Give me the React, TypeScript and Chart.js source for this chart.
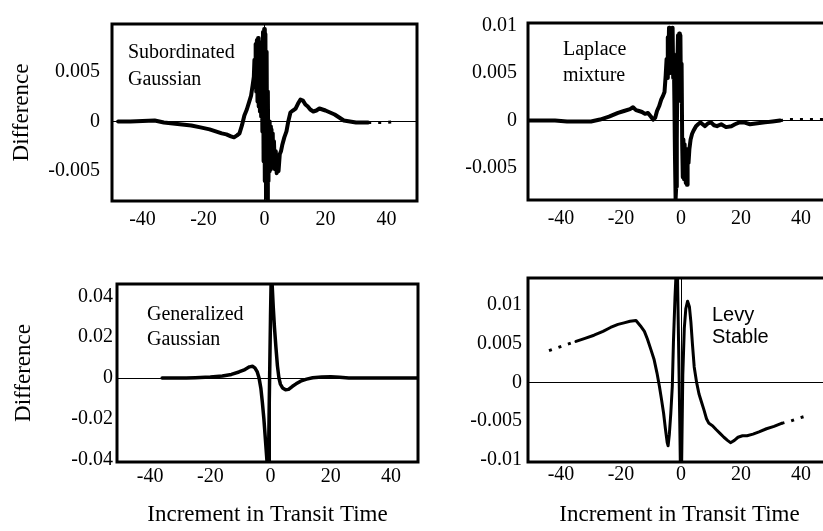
import React, { useEffect, useRef } from "react";
import { Chart, registerables } from "chart.js";

Chart.register(...registerables);

const SERIF = "'Liberation Serif', 'Times New Roman', serif";
const SANS = "'Liberation Sans', Arial, sans-serif";

// shared x ticks
const xTicks = [-40, -20, 0, 20, 40];
const xTickLabels = ["-40", "-20", "0", "20", "40"];

// Panel 1: Subordinated Gaussian
const sgX = [-48, -44, -40, -36, -33, -30, -27, -24, -21, -18, -16, -14, -12.5, -11, -10, -9, -8.2, -7.4, -6.6, -5.8, -5.0, -4.4, -3.9, -3.5, -3.3, -3.1, -2.9, -2.7, -2.5, -2.3, -2.1, -1.9, -1.7, -1.5, -1.3, -1.1, -0.9, -0.7, -0.5, -0.3, -0.1, 0.1, 0.3, 0.5, 0.7, 0.9, 1.1, 1.3, 1.5, 1.7, 1.9, 2.1, 2.3, 2.5, 2.7, 2.9, 3.1, 3.4, 3.7, 4.0, 4.3, 4.6, 5.0, 5.4, 5.8, 6.5, 7.2, 7.8, 8.5, 9.3, 10.2, 11.0, 11.8, 12.6, 13.4, 14.2, 15.0, 16.0, 17.0, 18.0, 19.0, 20.0, 21.5, 23.0, 24.5, 26.0, 28.0, 30.0, 32.0, 34.0];
const sgY = [0, 0, 0.00005, 0.0001, -0.0001, -0.0002, -0.0003, -0.0004, -0.0006, -0.0008, -0.001, -0.0012, -0.0013, -0.0015, -0.0016, -0.0014, -0.0012, -0.0004, 0.0006, 0.0012, 0.002, 0.0026, 0.0036, 0.0045, 0.0062, 0.004, 0.0078, 0.003, 0.0082, 0.002, 0.0084, 0.0015, 0.008, 0.001, 0.0078, 0.0005, 0.0074, -0.001, 0.009, -0.004, 0.0093, -0.006, 0.0088, -0.0077, 0.007, -0.0079, 0.003, -0.006, 0, -0.005, -0.0005, -0.0048, -0.0008, -0.0045, -0.0012, -0.0046, -0.002, -0.0048, -0.003, -0.0052, -0.004, -0.005, -0.0033, -0.003, -0.0024, -0.0016, -0.001, 0, 0.0009, 0.0011, 0.0013, 0.0018, 0.0022, 0.0021, 0.0017, 0.0015, 0.0012, 0.001, 0.0011, 0.0013, 0.0012, 0.0011, 0.0009, 0.0007, 0.0004, 0.0001, 0, -0.0001, -0.0001, -0.0001];
const sgTailX = [34, 37, 40, 43];
const sgTailY = [-0.0001, -0.0001, -0.0001, 0];
const sgYTicks = [0.005, 0, -0.005];
const sgYLabels = ["0.005", "0", "-0.005"];

// Panel 2: Laplace mixture
const lmX = [-51, -46, -42, -38, -34, -30, -27, -24, -21, -19, -17, -16, -15, -14, -13, -12, -11, -10, -9.3, -8.6, -8, -7.3, -6.6, -6.0, -5.5, -5.1, -4.8, -4.6, -4.4, -4.2, -4.0, -3.8, -3.6, -3.4, -3.2, -3.0, -2.8, -2.6, -2.4, -2.2, -2.0, -1.8, -1.6, -1.4, -1.2, -1.0, -0.8, -0.6, -0.4, -0.2, 0.0, 0.2, 0.4, 0.6, 0.8, 1.0, 1.2, 1.4, 1.6, 1.8, 2.0, 2.2, 2.5, 2.8, 3.2, 3.7, 4.3, 5.0, 5.7, 6.5, 7.2, 8.0, 9.0, 10.0, 11.0, 12.0, 13.4, 15.0, 16.8, 18.0, 19.5, 21.0, 23.0, 25.5, 28.0, 30.5, 33.0];
const lmY = [0, 0, 0, -0.0001, -0.0001, -0.0001, 0.0001, 0.0004, 0.0008, 0.001, 0.0012, 0.0014, 0.0011, 0.001, 0.0009, 0.0007, 0.0008, 0.0004, 0.0001, 0.0003, 0.001, 0.0015, 0.0022, 0.0026, 0.003, 0.0048, 0.0065, 0.0045, 0.0088, 0.006, 0.0098, 0.005, 0.0096, 0.0055, 0.0097, 0.006, 0.0098, 0.0045, 0.007, 0.002, -0.004, -0.0083, -0.007, -0.002, 0.006, 0.009, 0.003, 0.0092, 0.0025, 0.009, 0.002, 0.006, -0.0025, -0.006, -0.002, -0.0062, -0.0025, -0.005, -0.0066, -0.003, -0.0068, -0.0035, -0.0045, -0.003, -0.002, -0.0014, -0.001, -0.0006, -0.0004, -0.0002, -0.0004, -0.0006, -0.0003, -0.0002, -0.0005, -0.0006, -0.0004, -0.0007, -0.0006, -0.0004, -0.0002, -0.0002, -0.0004, -0.0003, -0.0002, -0.0001, 0];
const lmTailX = [33, 36, 40, 44, 48];
const lmTailY = [0, 0.0001, 0.0001, 0.0001, 0.0001];
const lmYTicks = [0.01, 0.005, 0, -0.005];
const lmYLabels = ["0.01", "0.005", "0", "-0.005"];

// Panel 3: Generalized Gaussian
const ggX = [-36, -32, -28, -25, -20, -16, -13, -10.5, -8.5, -7, -6, -5.2, -4.4, -3.8, -3.2, -2.7, -2.2, -1.7, -1.3, -1.0, -0.7, -0.4, 0.0, 0.2, 0.5, 0.9, 1.3, 1.8, 2.3, 2.8, 3.3, 4.0, 5.0, 6.0, 7.3, 8.5, 10.0, 12.0, 14.0, 17.0, 20.0, 23.0, 26.0, 30, 35, 40, 45, 49];
const ggY = [0, 0, 0.0001, 0.0002, 0.0005, 0.001, 0.0018, 0.003, 0.0042, 0.0055, 0.0058, 0.005, 0.003, 0, -0.005, -0.012, -0.02, -0.03, -0.038, -0.044, -0.045, -0.01, 0.03, 0.047, 0.047, 0.035, 0.025, 0.015, 0.006, 0, -0.003, -0.0048, -0.0057, -0.0055, -0.004, -0.0028, -0.0015, -0.0005, 0.0002, 0.0006, 0.0007, 0.0004, 0.0001, 0, 0, 0, 0, 0];
const ggYTicks = [0.04, 0.02, 0, -0.02, -0.04];
const ggYLabels = ["0.04", "0.02", "0", "-0.02", "-0.04"];

// Panel 4: Levy Stable
const lsHeadX = [-44, -41, -38, -35];
const lsHeadY = [0.0041, 0.0045, 0.0049, 0.0053];
const lsX = [-35, -32, -29, -26, -23.5, -21, -19, -17, -15, -13.5, -12.2, -11.2, -10, -9, -8, -7.2, -6.5, -5.8, -5.2, -4.6, -4.3, -3.9, -3.4, -2.9, -2.5, -2.0, -1.6, -1.2, -0.6, -0.2, 0.2, 0.6, 1.1, 1.6, 2.2, 2.8, 3.3, 3.8, 4.4, 5.2, 6.0, 6.8, 7.6, 8.5, 9.3, 10.5, 11.7, 13.0, 14.3, 15.5, 16.5, 17.8, 19.0, 20.5, 22.0, 24.0, 26.0, 28.5, 31.0, 33.5];
const lsY = [0.0053, 0.0057, 0.0061, 0.0066, 0.0071, 0.0075, 0.0077, 0.0079, 0.008, 0.0073, 0.0066, 0.0056, 0.0042, 0.003, 0.0012, -0.0005, -0.0022, -0.004, -0.006, -0.0078, -0.0082, -0.0068, -0.004, -0.0005, 0.0055, 0.011, 0.0145, 0.0145, 0, -0.011, -0.011, 0.001, 0.007, 0.0095, 0.0105, 0.0098, 0.0078, 0.005, 0.002, 0, -0.0015, -0.0025, -0.0035, -0.0047, -0.0053, -0.0056, -0.0061, -0.0066, -0.0071, -0.0075, -0.0078, -0.0075, -0.0071, -0.0069, -0.0069, -0.0067, -0.0064, -0.006, -0.0057, -0.0053];
const lsTailX = [33.5, 36.5, 39.5, 43];
const lsTailY = [-0.0053, -0.005, -0.0046, -0.0042];
const lsYTicks = [0.01, 0.005, 0, -0.005, -0.01];
const lsYLabels = ["0.01", "0.005", "0", "-0.005", "-0.01"];

type Series = { x: number[]; y: number[]; dashed?: boolean };

type PanelProps = {
  left: number; top: number; width: number; height: number;
  pad: { top: number; right: number; left: number; bottom: number };
  yWidth: number; xHeight: number;
  xMin: number; xMax: number; yMin: number; yMax: number;
  yTicks: number[]; yLabels: string[];
  yTickPad: number; xTickPad: number;
  series: Series[];
  lineWidth: number;
  yTitle?: string; yTitlePad?: number;
  xTitle?: string; xTitlePad?: number;
  zeroX: boolean;
  note: string[]; noteFont: string; noteDx: number; noteDy: number; noteGap: number;
};

function Panel(p: PanelProps) {
  const ref = useRef<HTMLCanvasElement | null>(null);
  useEffect(() => {
    if (!ref.current) return;
    const frame = {
      id: "frame",
      afterDatasetsDraw(chart: any) {
        const { ctx, chartArea: a } = chart;
        ctx.save();
        ctx.strokeStyle = "#000";
        ctx.lineWidth = 3;
        ctx.strokeRect(a.left, a.top, a.right - a.left, a.bottom - a.top);
        ctx.restore();
      },
    };
    const note = {
      id: "note",
      afterDraw(chart: any) {
        const { ctx, chartArea: a } = chart;
        ctx.save();
        ctx.fillStyle = "#000";
        ctx.font = p.noteFont;
        ctx.textAlign = "left";
        ctx.textBaseline = "alphabetic";
        p.note.forEach((t, i) => ctx.fillText(t, a.left + p.noteDx, a.top + p.noteDy + i * p.noteGap));
        ctx.restore();
      },
    };
    const tickFont = { family: SERIF, size: 20 };
    const titleFont = { family: SERIF, size: 23 };
    const chart = new Chart(ref.current, {
      type: "line",
      data: {
        datasets: p.series.map((s) => ({
          data: s.x.map((x, i) => ({ x, y: s.y[i] })),
          borderColor: "#000",
          borderWidth: s.dashed ? 3 : p.lineWidth,
          borderDash: s.dashed ? [3, 7] : [],
          borderJoinStyle: "round",
          borderCapStyle: s.dashed ? "butt" : "round",
          pointRadius: 0,
          tension: 0,
          fill: false,
        })),
      },
      options: {
        responsive: false,
        animation: false,
        events: [],
        layout: { padding: p.pad },
        plugins: { legend: { display: false }, tooltip: { enabled: false } },
        scales: {
          x: {
            type: "linear",
            min: p.xMin,
            max: p.xMax,
            afterBuildTicks: (s: any) => { s.ticks = xTicks.map((v) => ({ value: v })); },
            afterFit: (s: any) => { s.height = p.xHeight; },
            ticks: {
              callback: (v: any) => xTickLabels[xTicks.indexOf(Number(v))],
              font: tickFont, color: "#000", padding: p.xTickPad, maxRotation: 0, autoSkip: false,
            },
            grid: {
              drawTicks: false, lineWidth: 1,
              color: (c: any) => (p.zeroX && c.tick && c.tick.value === 0 ? "#000" : "rgba(0,0,0,0)"),
            },
            border: { display: false },
            title: p.xTitle
              ? { display: true, text: p.xTitle, font: titleFont, color: "#000", padding: { top: 0, bottom: p.xTitlePad || 0 } }
              : { display: false },
          },
          y: {
            type: "linear",
            min: p.yMin,
            max: p.yMax,
            afterBuildTicks: (s: any) => { s.ticks = p.yTicks.map((v) => ({ value: v })); },
            afterFit: (s: any) => { s.width = p.yWidth; },
            ticks: {
              callback: (v: any) => p.yLabels[p.yTicks.indexOf(Number(v))],
              font: tickFont, color: "#000", padding: p.yTickPad, autoSkip: false,
            },
            grid: {
              drawTicks: false, lineWidth: 1,
              color: (c: any) => (c.tick && c.tick.value === 0 ? "#000" : "rgba(0,0,0,0)"),
            },
            border: { display: false },
            title: p.yTitle
              ? { display: true, text: p.yTitle, font: titleFont, color: "#000", padding: { top: p.yTitlePad || 0, bottom: 0 } }
              : { display: false },
          },
        },
      } as any,
      plugins: [frame, note],
    });
    return () => chart.destroy();
  }, []);
  return (
    <canvas
      ref={ref}
      width={p.width}
      height={p.height}
      style={{ position: "absolute", left: p.left, top: p.top, width: p.width, height: p.height }}
    />
  );
}

export default function App() {
  const serifNote = "20px " + SERIF;
  const sansNote = "20px " + SANS;
  return (
    <div style={{ position: "fixed", left: 0, top: 0, width: 823, height: 531, overflow: "hidden", background: "#fff" }}>
      <Panel
        left={0} top={0} width={430} height={250}
        pad={{ top: 14, right: 13, left: 0, bottom: 0 }}
        yWidth={112} xHeight={49}
        xMin={-50} xMax={50} yMin={-0.008} yMax={0.0098}
        yTicks={sgYTicks} yLabels={sgYLabels} yTickPad={12} xTickPad={7}
        series={[{ x: sgX, y: sgY }, { x: sgTailX, y: sgTailY, dashed: true }]}
        lineWidth={4}
        yTitle="Difference" yTitlePad={8}
        zeroX={true}
        note={["Subordinated", "Gaussian"]} noteFont={serifNote} noteDx={16} noteDy={34} noteGap={27}
      />
      <Panel
        left={415} top={0} width={430} height={250}
        pad={{ top: 13, right: 14, left: 0, bottom: 0 }}
        yWidth={113} xHeight={50}
        xMin={-51} xMax={50} yMin={-0.0084} yMax={0.0103}
        yTicks={lmYTicks} yLabels={lmYLabels} yTickPad={11} xTickPad={7}
        series={[{ x: lmX, y: lmY }, { x: lmTailX, y: lmTailY, dashed: true }]}
        lineWidth={4}
        zeroX={false}
        note={["Laplace", "mixture"]} noteFont={serifNote} noteDx={35} noteDy={32} noteGap={26}
      />
      <Panel
        left={0} top={260} width={430} height={271}
        pad={{ top: 24, right: 12, left: 0, bottom: 0 }}
        yWidth={117} xHeight={69}
        xMin={-51} xMax={49} yMin={-0.041} yMax={0.046}
        yTicks={ggYTicks} yLabels={ggYLabels} yTickPad={4} xTickPad={3}
        series={[{ x: ggX, y: ggY }]}
        lineWidth={3.5}
        yTitle="Difference" yTitlePad={10}
        xTitle="Increment in Transit Time" xTitlePad={2}
        zeroX={true}
        note={["Generalized", "Gaussian"]} noteFont={serifNote} noteDx={30} noteDy={36} noteGap={25}
      />
      <Panel
        left={415} top={260} width={430} height={271}
        pad={{ top: 17, right: 14, left: 0, bottom: 0 }}
        yWidth={113} xHeight={69}
        xMin={-51} xMax={50} yMin={-0.0103} yMax={0.0135}
        yTicks={lsYTicks} yLabels={lsYLabels} yTickPad={6} xTickPad={1}
        series={[{ x: lsHeadX, y: lsHeadY, dashed: true }, { x: lsX, y: lsY }, { x: lsTailX, y: lsTailY, dashed: true }]}
        lineWidth={3}
        xTitle="Increment in Transit Time" xTitlePad={2}
        zeroX={true}
        note={["Levy", "Stable"]} noteFont={sansNote} noteDx={184} noteDy={43} noteGap={22}
      />
    </div>
  );
}
